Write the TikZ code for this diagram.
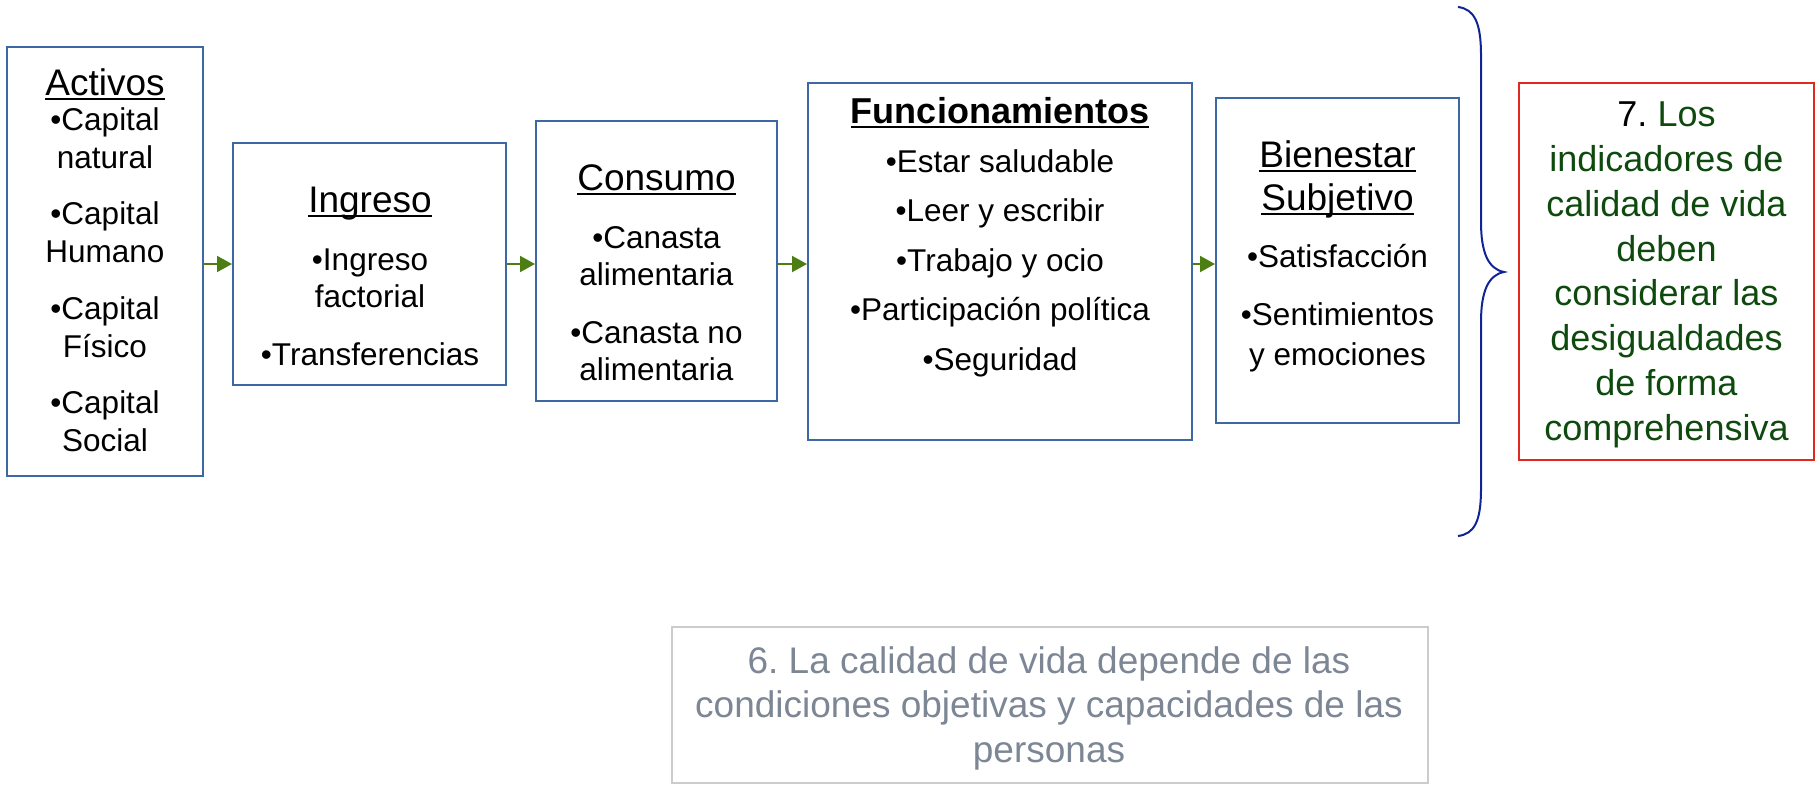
\documentclass[tikz,border=0pt]{standalone}
\usepackage{fontspec}
\setmainfont{Liberation Sans}
\usetikzlibrary{arrows.meta}
\definecolor{boxblue}{RGB}{60,104,164}
\definecolor{arrowgreen}{RGB}{76,126,20}
\definecolor{braceblue}{RGB}{16,36,150}
\definecolor{redline}{RGB}{224,40,30}
\definecolor{darkgreen}{RGB}{14,74,14}
\definecolor{graytext}{RGB}{124,134,148}
\definecolor{grayline}{RGB}{204,204,204}
\newcommand\myul[1]{\setbox0\hbox{#1}\rlap{\rule[-0.14em]{\wd0}{0.07em}}\box0}
\frenchspacing
\begin{document}
\begin{tikzpicture}[x=1pt,y=-1pt,
  box/.style={draw=boxblue, line width=2pt, inner sep=0pt, rectangle},
  ttl/.style={anchor=base, inner sep=0pt, font=\fontsize{37}{44}\selectfont},
  itm/.style={anchor=base, inner sep=0pt, font=\fontsize{31.5}{38}\selectfont},
  rtxt/.style={anchor=base, inner sep=0pt, text=darkgreen, font=\fontsize{36}{44}\selectfont},
  gtxt/.style={anchor=base, inner sep=0pt, text=graytext, font=\fontsize{37}{44}\selectfont},
  arr/.style={draw=arrowgreen, line width=2pt, -{Triangle[length=15pt,width=16pt]}},
  brace/.style={draw=braceblue, line width=2pt}]
\useasboundingbox (0,0) rectangle (1816,785);
% boxes
\node[box, minimum width=196pt, minimum height=429pt] (act) at (105,261.5) {};
\node[box, minimum width=273pt, minimum height=242pt] (ing) at (369.5,264) {};
\node[box, minimum width=241pt, minimum height=280pt] (con) at (656.5,261) {};
\node[box, minimum width=384pt, minimum height=357pt] (fun) at (1000,261.5) {};
\node[box, minimum width=243pt, minimum height=325pt] (bie) at (1337.5,260.5) {};
\node[draw=redline, line width=2pt, inner sep=0pt, minimum width=295pt, minimum height=377pt] (red) at (1666.5,271.5) {};
\node[draw=grayline, line width=1.5pt, inner sep=0pt, minimum width=756pt, minimum height=156pt] (six) at (1050,705) {};
% Activos
\node[ttl] (actt) at (105,95) {\myul{Activos}};
\node[itm] (act1) at (105,130) {•Capital};
\node[itm] (act2) at (105,168) {natural};
\node[itm] (act3) at (105,224) {•Capital};
\node[itm] (act4) at (105,262) {Humano};
\node[itm] (act5) at (105,319) {•Capital};
\node[itm] (act6) at (105,357) {Físico};
\node[itm] (act7) at (105,413) {•Capital};
\node[itm] (act8) at (105,451) {Social};
% Ingreso
\node[ttl] (ingt) at (370,212) {\myul{Ingreso}};
\node[itm] (ing1) at (370,270) {•Ingreso};
\node[itm] (ing2) at (370,307) {factorial};
\node[itm] (ing3) at (370,365) {•Transferencias};
% Consumo
\node[ttl] (cont) at (656.5,190) {\myul{Consumo}};
\node[itm] (con1) at (656.5,248) {•Canasta};
\node[itm] (con2) at (656.5,285) {alimentaria};
\node[itm] (con3) at (656.5,343) {•Canasta no};
\node[itm] (con4) at (656.5,380) {alimentaria};
% Funcionamientos
\node[ttl, font=\fontsize{36}{44}\selectfont\bfseries] (funt) at (1000,123) {\myul{Funcionamientos}};
\node[itm] (fun1) at (1000,172) {•Estar saludable};
\node[itm] (fun2) at (1000,221.5) {•Leer y escribir};
\node[itm] (fun3) at (1000,271) {•Trabajo y ocio};
\node[itm] (fun4) at (1000,320.5) {•Participación política};
\node[itm] (fun5) at (1000,370) {•Seguridad};
% Bienestar
\node[ttl] (biet1) at (1337.5,167) {\myul{Bienestar}};
\node[ttl] (biet2) at (1337.5,210) {\myul{Subjetivo}};
\node[itm] (bie1) at (1337.5,267) {•Satisfacción};
\node[itm] (bie2) at (1337.5,325) {•Sentimientos};
\node[itm] (bie3) at (1337.5,365) {y emociones};
% arrows
\coordinate (ay) at (0,264);
\draw[arr] (act.east |- ay) -- (ing.west |- ay);
\draw[arr] (ing.east |- ay) -- (con.west |- ay);
\draw[arr] (con.east |- ay) -- (fun.west |- ay);
\draw[arr] (fun.east |- ay) -- (bie.west |- ay);
% brace
\draw[brace] (1458,7) .. controls (1474,9) and (1481,22) .. (1481,55) -- (1481,222)
  .. controls (1481,252) and (1488,269) .. (1504,272)
  .. controls (1488,275) and (1481,292) .. (1481,322) -- (1481,489)
  .. controls (1481,522) and (1474,534) .. (1458,536);
% red box text
\node[rtxt] (r1) at (1666.5,126) {\textcolor{black}{7.} Los};
\node[rtxt] (r2) at (1666.5,171) {indicadores de};
\node[rtxt] (r3) at (1666.5,216) {calidad de vida};
\node[rtxt] (r4) at (1666.5,261) {deben};
\node[rtxt] (r5) at (1666.5,305) {considerar las};
\node[rtxt] (r6) at (1666.5,350) {desigualdades};
\node[rtxt] (r7) at (1666.5,395) {de forma};
\node[rtxt] (r8) at (1666.5,440) {comprehensiva};
% box 6 text
\node[gtxt] (s1) at (1049,673) {6. La calidad de vida depende de las};
\node[gtxt] (s2) at (1049,717.5) {condiciones objetivas y capacidades de las};
\node[gtxt] (s3) at (1049,762) {personas};
\end{tikzpicture}
\end{document}
